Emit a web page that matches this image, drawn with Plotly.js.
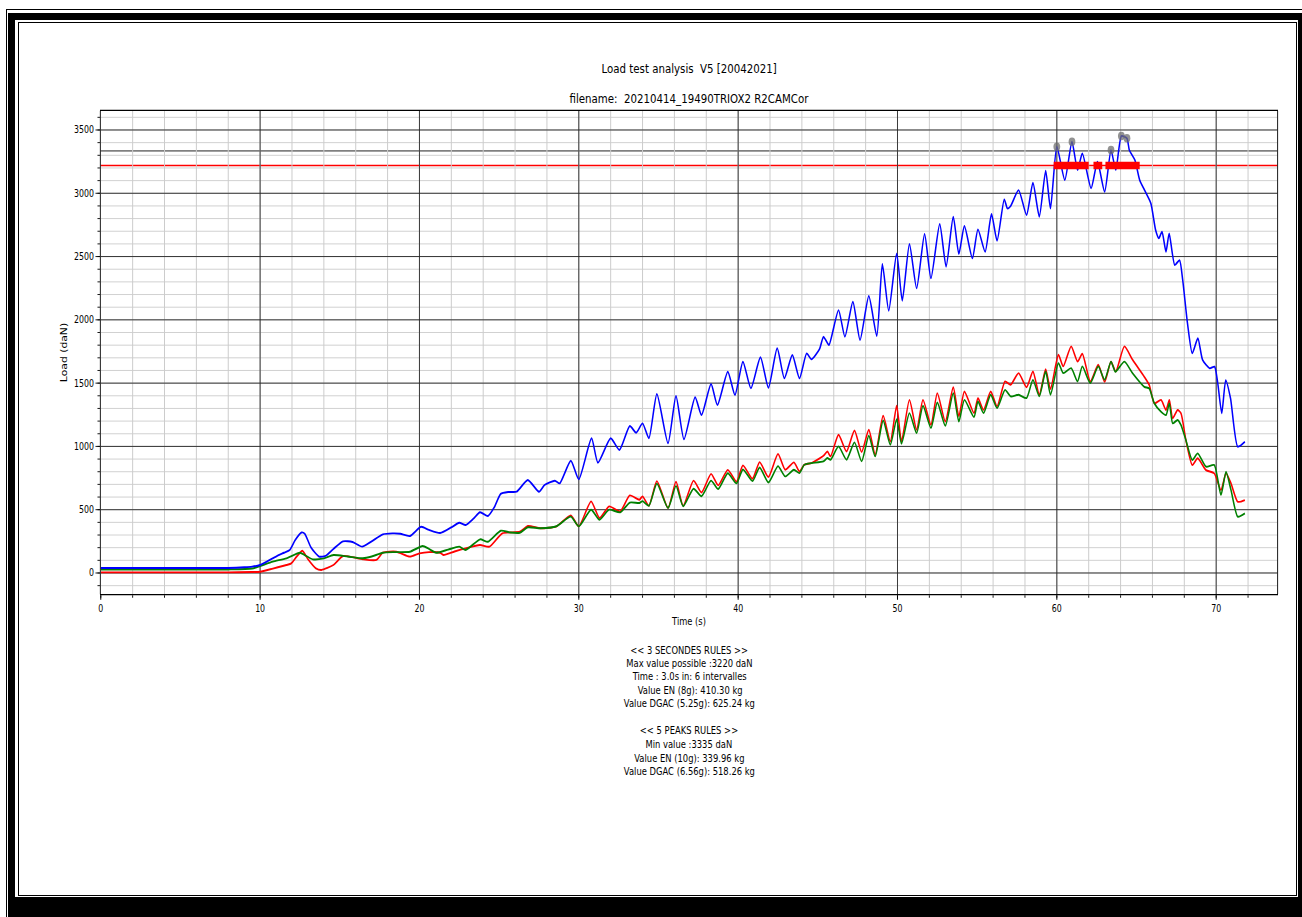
<!DOCTYPE html>
<html><head><meta charset="utf-8">
<script src="https://cdn.plot.ly/plotly-3.0.1.min.js"></script>
<style>
html,body{margin:0;padding:0;background:#fff;}
#wrap{position:relative;width:1302px;height:917px;overflow:hidden;background:#fff;}
#chart{position:absolute;left:0;top:0;height:917px;transform-origin:0 0;}
.f{position:absolute;background:#000;}
</style></head><body>
<div id="wrap"><div id="chart"></div>
<div class="f" style="left:6px;top:9px;width:1296px;height:1px"></div>
<div class="f" style="left:6px;top:9px;width:1px;height:908px"></div>
<div class="f" style="left:8px;top:13px;width:1294px;height:7px"></div>
<div class="f" style="left:8px;top:13px;width:7px;height:904px"></div>
<div class="f" style="left:18px;top:22px;width:1278px;height:1px"></div>
<div class="f" style="left:18px;top:22px;width:1px;height:874px"></div>
<div class="f" style="left:18px;top:895px;width:1279px;height:1px"></div>
<div class="f" style="left:1296px;top:22px;width:1px;height:874px"></div>
<div class="f" style="left:8px;top:897px;width:1294px;height:20px"></div>
<div class="f" style="left:1298px;top:13px;width:4px;height:904px"></div>
</div>
<script>
// ---- data ----
const blue_t = [0,5,8,9,9.5,10,10.5,11,11.5,11.86,12.2,12.6,12.8,13.2,13.7,14.1,14.6,15.2,15.8,16.4,17.0,17.7,18.3,18.8,19.4,20.1,20.6,21.3,22.0,22.5,22.9,23.4,23.8,24.3,24.7,25.1,25.6,26.1,26.8,27.5,27.85,28.5,28.8,29.5,30.0,30.8,31.2,32.0,32.55,33.2,33.6,34.0,34.4,34.9,35.6,36.1,36.6,37.3,37.7,38.3,38.7,39.35,39.8,40.3,40.8,41.4,41.9,42.45,42.9,43.4,43.85,44.3,44.6,45.1,45.35,45.5,45.7,46.3,46.7,47.2,47.65,48.2,48.7,49.05,49.45,49.95,50.3,50.75,51.2,51.7,52.1,52.65,53.05,53.5,53.85,54.2,54.7,55.05,55.5,55.9,56.25,56.7,56.9,57.1,57.6,58.1,58.5,58.9,59.3,59.6,60.0,60.5,60.95,61.3,61.6,62.15,62.55,63.0,63.4,63.7,64.05,64.4,64.55,64.9,65.2,65.5,65.9,66.2,66.4,66.6,66.85,67.05,67.4,67.7,67.9,68.2,68.5,68.85,69.15,69.6,69.9,70.1,70.35,70.6,70.9,71.35,71.8];
const blue_v = [40,40,40,45,50,63,95,130,160,182,260,320,310,200,130,135,190,250,245,208,250,305,313,310,292,365,340,316,360,397,379,430,480,450,520,625,640,642,735,642,695,729,708,887,740,1064,871,1064,972,1161,1108,1182,1064,1414,1024,1398,1056,1388,1248,1493,1327,1590,1406,1669,1459,1704,1464,1775,1538,1722,1538,1735,1688,1767,1866,1840,1801,2077,1866,2143,1840,2188,1872,2441,2072,2525,2151,2599,2249,2678,2328,2757,2420,2815,2520,2741,2486,2715,2538,2836,2625,2952,2880,2899,3025,2828,3083,2815,3178,2880,3367,3104,3407,3183,3315,3039,3249,3012,3341,3183,3452,3434,3341,3262,3104,3025,2920,2709,2644,2696,2538,2683,2433,2472,2314,1972,1735,1854,1682,1617,1630,1498,1262,1524,1380,998,1037];

const red_t = [0,8,9.5,10,10.8,11.65,11.96,12.3,12.65,13.0,13.5,13.85,14.6,15.2,15.8,16.45,17.3,17.7,18.55,19.4,20.0,20.6,21.3,21.5,22.2,22.9,23.8,24.4,25.2,26.3,26.8,27.6,28.6,29.5,30.0,30.77,31.3,31.9,32.6,33.2,33.8,34.0,34.4,34.9,35.6,36.1,36.55,37.2,37.7,38.3,38.75,39.35,39.9,40.3,40.9,41.35,41.9,42.5,42.95,43.5,43.85,44.15,44.6,45.35,45.6,45.8,46.3,46.8,47.3,47.75,48.2,48.6,49.1,49.55,49.95,50.25,50.75,51.2,51.6,52.1,52.5,53.0,53.5,53.85,54.2,54.8,55.05,55.4,55.85,56.25,56.75,57.1,57.6,58.1,58.5,58.9,59.3,59.6,60.1,60.4,60.9,61.3,61.6,62.1,62.6,63.0,63.4,63.7,64.24,64.76,65.49,65.8,66.12,66.54,66.85,67.06,67.27,67.58,67.79,68.1,68.5,68.84,69.36,69.88,70.3,70.62,70.93,71.35,71.8];
const red_v = [5,5,8,10,35,63,76,130,176,110,37,24,63,134,125,108,103,160,168,129,155,165,160,142,170,195,221,208,313,326,371,353,369,455,368,566,434,526,487,613,579,605,531,726,513,722,530,730,636,783,692,815,722,850,745,876,758,941,816,874,803,855,868,926,960,921,1092,960,1126,955,1132,934,1242,1039,1321,1039,1368,1132,1368,1171,1421,1197,1468,1237,1434,1263,1382,1289,1434,1316,1513,1487,1579,1468,1592,1408,1611,1453,1724,1632,1790,1671,1732,1513,1645,1510,1670,1592,1790,1683,1550,1485,1340,1367,1288,1367,1222,1288,1262,1050,853,906,813,787,655,787,708,563,576];

const green_t = [0,8,9.5,10,10.8,11.65,12.5,12.8,13.3,14.0,14.6,15.5,16.45,17.0,17.7,18.5,19.4,20.2,20.6,21.05,21.8,22.5,22.9,23.8,24.3,25.1,25.7,26.3,26.8,27.6,28.6,29.5,30.0,30.77,31.3,31.9,32.6,33.2,33.8,34.0,34.4,34.9,35.6,36.1,36.55,37.2,37.7,38.3,38.75,39.35,39.9,40.3,40.9,41.35,41.9,42.5,42.95,43.5,43.85,44.15,44.6,45.35,45.6,45.8,46.3,46.8,47.3,47.75,48.2,48.6,49.1,49.55,49.95,50.25,50.75,51.2,51.6,52.1,52.5,53.0,53.5,53.85,54.2,54.8,55.05,55.4,55.85,56.25,56.75,57.1,57.6,58.1,58.5,58.9,59.3,59.6,60.1,60.4,60.9,61.3,61.6,62.1,62.6,63.0,63.4,63.67,64.24,64.76,65.49,65.8,66.12,66.54,66.85,67.06,67.27,67.58,67.79,68.1,68.5,68.84,69.36,69.88,70.3,70.62,70.93,71.35,71.8];
const green_v = [28,28,35,55,90,116,160,142,108,115,142,130,116,130,160,165,168,213,190,160,185,208,182,266,247,334,320,318,361,353,369,445,368,500,421,500,479,556,553,568,531,706,513,688,527,666,606,730,663,788,708,818,726,834,715,844,763,816,789,855,868,882,908,895,1000,895,1032,882,1084,921,1205,1013,1216,1021,1263,1105,1321,1145,1347,1163,1421,1197,1368,1232,1355,1263,1408,1303,1447,1395,1408,1382,1526,1395,1592,1408,1658,1579,1618,1513,1632,1500,1632,1526,1670,1590,1670,1577,1471,1458,1340,1274,1248,1340,1182,1209,1169,1050,893,945,840,853,616,800,655,445,471];

const peak_t = [60.0, 60.95, 63.4, 64.05, 64.4];
const peak_v = [3367, 3407, 3341, 3452, 3434];

const MAX_3S = 3220;      // daN, 3 seconds rule limit
const MIN_5P = 3335;      // daN, 5 peaks rule limit
const band_start = [59.8, 62.3, 63.05];
const band_end   = [62.0, 62.85, 65.2];

const x_ticks = [0,10,20,30,40,50,60,70];
const y_ticks = [0,500,1000,1500,2000,2500,3000,3500];

const title1 = 'Load test analysis  V5 [20042021]';
const title2 = 'filename:  20210414_19490TRIOX2 R2CAMCor';
const info_lines = [
  '&lt;&lt; 3 SECONDES RULES &gt;&gt;',
  'Max value possible :3220 daN',
  'Time : 3.0s in: 6 intervalles',
  ' Value EN (8g): 410.30 kg',
  'Value DGAC (5.25g): 625.24 kg',
  '',
  '&lt;&lt; 5 PEAKS RULES &gt;&gt;',
  'Min value :3335 daN',
  'Value EN (10g): 339.96 kg',
  'Value DGAC (6.56g): 518.26 kg'
];
const info_y_px = [650,663,676,690,703,717,730,744,758,771];

// ---- layout geometry ----
const W = 1628, H = 917, SX = 1302 / W;
const plotL = 101, plotR = 1277, plotT = 111, plotB = 594;
const el = document.getElementById('chart');
el.style.width = W + 'px';
el.style.transform = 'scaleX(' + SX + ')';
const py = p => (plotB - p) / (plotB - plotT);

const bx = [], by = [];
band_start.forEach((s, i) => { bx.push(s, band_end[i], null); by.push(MAX_3S, MAX_3S, null); });

const FONT = 'DejaVu Sans, Verdana, sans-serif';
const lw = 1.9;
const traces = [
  {x: red_t, y: red_v, mode: 'lines', line: {color: '#ff0000', width: lw, shape: 'spline', smoothing: 0.6}},
  {x: green_t, y: green_v, mode: 'lines', line: {color: '#008000', width: lw, shape: 'spline', smoothing: 0.6}},
  {x: blue_t, y: blue_v, mode: 'lines', line: {color: '#0000ff', width: lw, shape: 'spline', smoothing: 0.6}},
  {x: bx, y: by, mode: 'lines', line: {color: '#ff0000', width: 7.5}},
  {x: peak_t, y: peak_v, mode: 'markers', marker: {color: 'rgba(110,110,110,0.75)', size: 8.5}}
];

const annotations = [
  {text: title1, x: 0.5, y: py(68), xref: 'paper', yref: 'paper', showarrow: false, yanchor: 'middle', font: {size: 12.8, color: '#000', family: FONT}},
  {text: title2, x: 0.5, y: py(99), xref: 'paper', yref: 'paper', showarrow: false, yanchor: 'middle', font: {size: 12.8, color: '#000', family: FONT}}
];
info_lines.forEach((t, i) => {
  if (!t) return;
  annotations.push({text: t, x: 0.5, y: py(info_y_px[i]), xref: 'paper', yref: 'paper', showarrow: false, yanchor: 'middle', font: {size: 10.5, color: '#000', family: FONT}});
});

const layout = {
  width: W, height: H,
  margin: {l: plotL / SX, r: (1302 - plotR) / SX, t: plotT, b: H - plotB, pad: 0},
  paper_bgcolor: 'rgba(0,0,0,0)', plot_bgcolor: '#fff',
  showlegend: false,
  font: {family: FONT, color: '#000', size: 10},
  xaxis: {
    range: [0, 73.83], tickvals: x_ticks, ticktext: x_ticks.map(String),
    showgrid: true, gridcolor: '#3a3a3a', gridwidth: 1.25, zeroline: false,
    showline: true, mirror: true, linecolor: '#000', linewidth: 1.25,
    ticks: 'outside', ticklen: 4.5, tickwidth: 1.25, tickcolor: '#000',
    tickfont: {size: 9.8, family: FONT, color: '#000'},
    minor: {dtick: 2, showgrid: true, gridcolor: '#cccccc', gridwidth: 1.25, ticks: 'outside', ticklen: 2.5, tickcolor: '#000', tickwidth: 1},
    title: {text: 'Time (s)', font: {size: 10.4, family: FONT, color: '#000'}, standoff: 5}
  },
  yaxis: {
    range: [-166, 3650], tickvals: y_ticks, ticktext: y_ticks.map(String),
    showgrid: true, gridcolor: '#222', gridwidth: 1, zeroline: false,
    showline: true, mirror: true, linecolor: '#000', linewidth: 1,
    ticks: 'outside', ticklen: 4.5 / SX, tickwidth: 1, tickcolor: '#000',
    tickfont: {size: 9.8, family: FONT, color: '#000'},
    minor: {dtick: 100, showgrid: true, gridcolor: '#cccccc', gridwidth: 1, ticks: 'outside', ticklen: 2.5 / SX, tickcolor: '#000', tickwidth: 1},
    title: {text: 'Load (daN)', font: {size: 10.8, family: FONT, color: '#000'}, standoff: 5}
  },
  shapes: [
    {type: 'line', xref: 'paper', x0: 0, x1: 1, yref: 'y', y0: MIN_5P, y1: MIN_5P, line: {color: '#808080', width: 1.6}, layer: 'below'},
    {type: 'line', xref: 'paper', x0: 0, x1: 1, yref: 'y', y0: MAX_3S, y1: MAX_3S, line: {color: '#ff0000', width: 1.6}, layer: 'below'}
  ],
  annotations: annotations
};

Plotly.newPlot(el, traces, layout, {staticPlot: true, displayModeBar: false});
</script>
</body></html>
